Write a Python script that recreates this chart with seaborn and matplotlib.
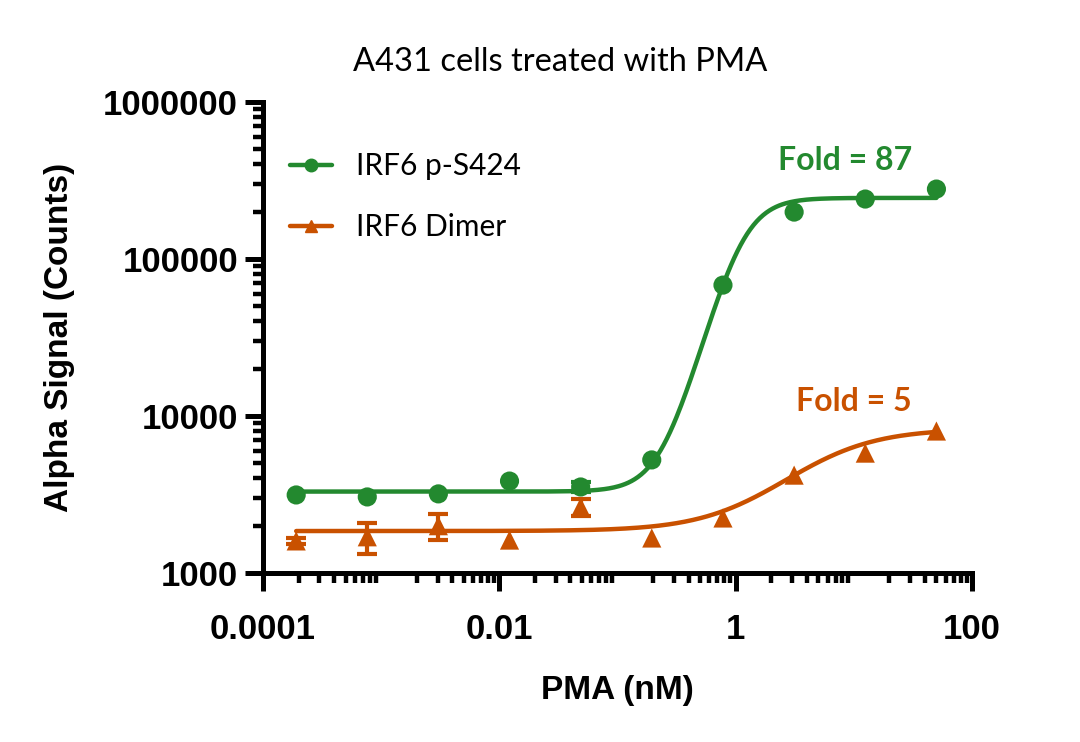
import numpy as np
import pandas as pd
import matplotlib
matplotlib.use("Agg")
import matplotlib.pyplot as plt
from matplotlib.lines import Line2D
import matplotlib.ticker as mticker
import seaborn as sns

# PMA dose series (nM), 4-fold dilutions
pma = [0.000191, 0.000763, 0.00305, 0.0122, 0.0488, 0.195, 0.781, 3.125, 12.5, 50]

# IRF6 p-S424 signal
ps424 = [3140, 3050, 3190, 3850, 3530, 5250, 68200, 199000, 241000, 279000]
ps424_sd = [0, 0, 0, 0, 250, 0, 0, 0, 0, 0]

# IRF6 Dimer signal
dimer = [1600, 1700, 2000, 1620, 2630, 1670, 2240, 4200, 5800, 8020]
dimer_sd = [80, 370, 380, 0, 320, 0, 0, 0, 0, 0]

# 4PL fit parameters: bottom, top, EC50, hill
fit_ps424 = (3300, 245000, 1.11, 2.85)
fit_dimer = (1850, 8300, 5.0, 1.2)

green = "#23892f"
orange = "#c95100"


def four_pl(x, p):
    bottom, top, ec50, hill = p
    return bottom + (top - bottom) / (1 + (ec50 / x) ** hill)


xs = np.logspace(np.log10(pma[0]), np.log10(pma[-1]), 400)
curves = pd.concat([
    pd.DataFrame({"x": xs, "y": four_pl(xs, fit_ps424), "s": "IRF6 p-S424"}),
    pd.DataFrame({"x": xs, "y": four_pl(xs, fit_dimer), "s": "IRF6 Dimer"}),
])
pts = pd.concat([
    pd.DataFrame({"x": pma, "y": ps424, "sd": ps424_sd, "s": "IRF6 p-S424"}),
    pd.DataFrame({"x": pma, "y": dimer, "sd": dimer_sd, "s": "IRF6 Dimer"}),
])
pal = {"IRF6 p-S424": green, "IRF6 Dimer": orange}
marks = {"IRF6 p-S424": "o", "IRF6 Dimer": "^"}

sns.set_style("ticks", {"axes.edgecolor": "black", "xtick.color": "black",
                        "ytick.color": "black", "text.color": "black",
                        "axes.labelcolor": "black"})
plt.rcParams["font.family"] = ["Lato", "DejaVu Sans"]

fig = plt.figure(figsize=(10.8, 7.42), dpi=100)
ax = fig.add_axes([0.2435, 0.2278, 0.6565, 0.6347])

sns.lineplot(data=curves, x="x", y="y", hue="s", palette=pal, lw=3.2,
             legend=False, ax=ax, zorder=2)
sns.scatterplot(data=pts, x="x", y="y", hue="s", style="s", markers=marks,
                palette=pal, s=190, linewidth=0, legend=False, ax=ax, zorder=3)
for name, g in pts.groupby("s"):
    g = g[g["sd"] > 0]
    ax.errorbar(g["x"], g["y"], yerr=g["sd"], fmt="none", ecolor=pal[name],
                elinewidth=3, capsize=7, capthick=3, zorder=3)

ax.set_xscale("log")
ax.set_yscale("log")
ax.set_xlim(1e-4, 100)
ax.set_ylim(1000, 1e6)
ax.set_xticks([1e-4, 1e-2, 1, 100])
ax.set_xticklabels(["0.0001", "0.01", "1", "100"])
ax.set_yticks([1e3, 1e4, 1e5, 1e6])
ax.set_yticklabels(["1000", "10000", "100000", "1000000"])
ax.xaxis.set_minor_locator(mticker.LogLocator(base=10, subs=np.arange(2, 10), numticks=20))
ax.yaxis.set_minor_locator(mticker.LogLocator(base=10, subs=np.arange(2, 10), numticks=20))
ax.xaxis.set_minor_formatter(mticker.NullFormatter())
ax.yaxis.set_minor_formatter(mticker.NullFormatter())

for sp in ["top", "right"]:
    ax.spines[sp].set_visible(False)
for sp in ["left", "bottom"]:
    ax.spines[sp].set_linewidth(3.6)
    ax.spines[sp].set_color("black")
ax.tick_params(which="major", length=13, width=3.6, direction="out", colors="black")
ax.tick_params(which="minor", length=7, width=3.2, direction="out", colors="black")
ax.tick_params(axis="y", which="major", pad=5)
ax.tick_params(axis="x", which="major", pad=16)
for lab in ax.get_xticklabels() + ax.get_yticklabels():
    lab.set_fontfamily("Liberation Sans")
    lab.set_fontweight("bold")
    lab.set_fontsize(25)

ax.set_xlabel("PMA (nM)", fontsize=24, fontweight="bold", family="Liberation Sans", labelpad=21)
ax.set_ylabel("Alpha Signal (Counts)", fontsize=24, fontweight="bold", family="Liberation Sans", labelpad=20)

fig.text(0.519, 0.916, "A431 cells treated with PMA", ha="center", va="center", fontsize=23.5)

ax.text(31, 4.27e5, "Fold = 87", color=green, ha="right", va="center", fontsize=23, fontweight="bold")
ax.text(31, 1.23e4, "Fold = 5", color=orange, ha="right", va="center", fontsize=23, fontweight="bold")

handles = [Line2D([], [], color=green, lw=3.2, marker="o", markersize=9),
           Line2D([], [], color=orange, lw=3.2, marker="^", markersize=9)]
ax.legend(handles, ["IRF6 p-S424", "IRF6 Dimer"], loc="upper left",
          bbox_to_anchor=(0.0, 0.95), frameon=False, fontsize=21.5,
          handlelength=1.4, handletextpad=0.8, labelspacing=1.1)

fig.savefig("out.png", dpi=100)
